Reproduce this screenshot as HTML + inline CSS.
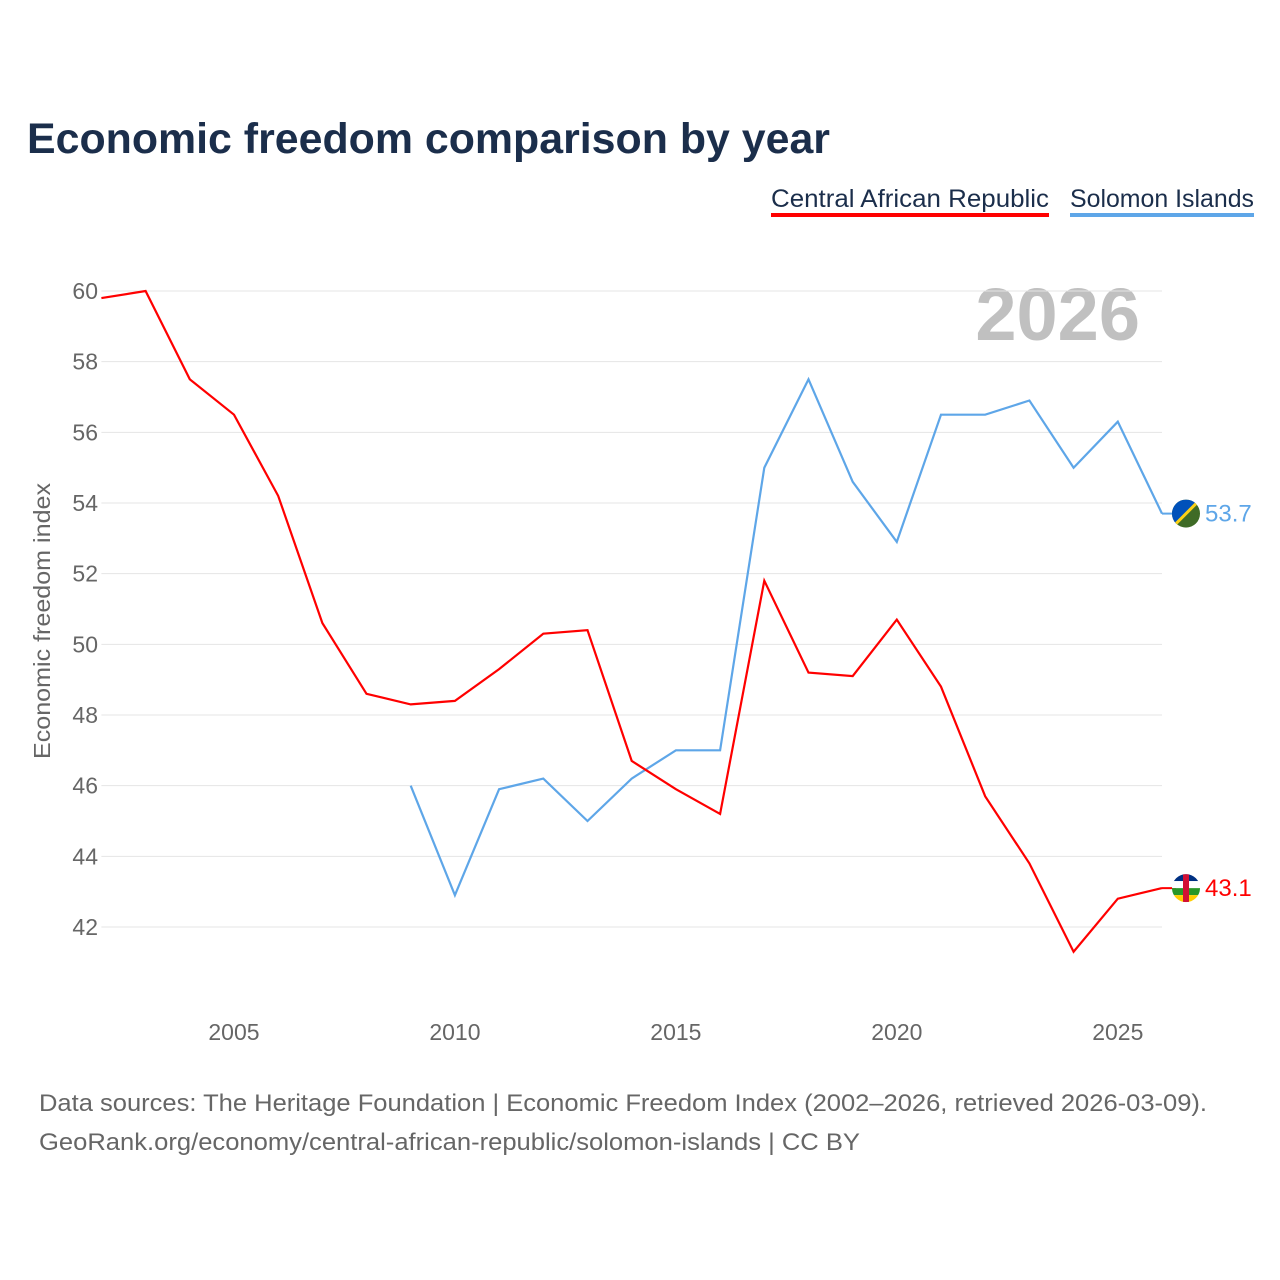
<!DOCTYPE html>
<html><head><meta charset="utf-8"><style>
body{margin:0;background:#fff;font-family:"Liberation Sans",sans-serif;}
#wrap{position:relative;width:1280px;height:1280px;overflow:hidden;}
</style></head><body>
<div id="wrap">
<svg id="chart" width="1280" height="1280"></svg>
</div>
<script>
const years = [2002,2003,2004,2005,2006,2007,2008,2009,2010,2011,2012,2013,2014,2015,2016,2017,2018,2019,2020,2021,2022,2023,2024,2025,2026];
const carValues = [59.8,60.0,57.5,56.5,54.2,50.6,48.6,48.3,48.4,49.3,50.3,50.4,46.7,45.9,45.2,51.8,49.2,49.1,50.7,48.8,45.7,43.8,41.3,42.8,43.1];
const solValues = [null,null,null,null,null,null,null,46.0,42.9,45.9,46.2,45.0,46.2,47.0,47.0,55.0,57.5,54.6,52.9,56.5,56.5,56.9,55.0,56.3,53.7];
const yTicks = [42,44,46,48,50,52,54,56,58,60];
const xTicks = [2005,2010,2015,2020,2025];

const NS="http://www.w3.org/2000/svg";
const svg=document.getElementById('chart');
const X0=101.4,X1=1162,Y0=927,Y1=291;
function xs(y){return X0+(y-2002)*(X1-X0)/(2026-2002);}
function ys(v){return Y0-(v-42)*(Y0-Y1)/(60-42);}
function el(tag,attrs,text){const e=document.createElementNS(NS,tag);for(const k in attrs)e.setAttribute(k,attrs[k]);if(text!==undefined)e.textContent=text;svg.appendChild(e);return e;}
const F='"Liberation Sans",sans-serif';

let t=el('text',{x:27,y:153,'font-size':43,'font-weight':'bold',fill:'#1b2e4b','font-family':F,textLength:803,lengthAdjust:'spacingAndGlyphs'},'Economic freedom comparison by year');



t=el('text',{x:771,y:207,'font-size':25,fill:'#1b2e4b','font-family':F,textLength:278,lengthAdjust:'spacingAndGlyphs'},'Central African Republic');


let r=el('rect',{x:771,y:213,width:278,height:4,fill:'#ff0000'});


t=el('text',{x:1070,y:207,'font-size':25,fill:'#1b2e4b','font-family':F,textLength:184,lengthAdjust:'spacingAndGlyphs'},'Solomon Islands');


r=el('rect',{x:1070,y:213,width:184,height:4,fill:'#5ea6e8'});



t=el('text',{x:1140,y:340,'font-size':74,'font-weight':'bold',fill:'#c0c0c0','text-anchor':'end','font-family':F},'2026');



yTicks.forEach(v=>{
  const l=el('line',{x1:X0,x2:X1,y1:ys(v),y2:ys(v),stroke:'#e4e4e4','stroke-width':1});
  
  
  const tx=el('text',{x:98,y:ys(v)+8,'font-size':23,fill:'#666','text-anchor':'end','font-family':F},String(v));
  
  
});
xTicks.forEach(v=>{
  const tx=el('text',{x:xs(v),y:1040,'font-size':23,fill:'#666','text-anchor':'middle','font-family':F},String(v));
  
  
});
t=el('text',{x:0,y:0,'font-size':23,fill:'#666','text-anchor':'middle','font-family':F,transform:'translate(50,621) rotate(-90)',textLength:276,lengthAdjust:'spacingAndGlyphs'},'Economic freedom index');



function pathFor(vals){let d='',pen=false;vals.forEach((v,i)=>{if(v===null){pen=false;return;}d+=(pen?'L':'M')+xs(years[i]).toFixed(1)+','+ys(v).toFixed(1);pen=true;});return d;}
let p=el('path',{d:pathFor(solValues),fill:'none',stroke:'#5ea6e8','stroke-width':2.2});


p=el('path',{d:pathFor(carValues),fill:'none',stroke:'#ff0000','stroke-width':2.2});



const last=years.length-1;
const ySol=ys(solValues[last]), yCar=ys(carValues[last]);
el('line',{x1:X1,x2:1176,y1:ySol,y2:ySol,stroke:'#5ea6e8','stroke-width':2});
el('line',{x1:X1,x2:1176,y1:yCar,y2:yCar,stroke:'#ff0000','stroke-width':2});
const defs=el('defs',{});
function clip(id,cy){const c=document.createElementNS(NS,'clipPath');c.setAttribute('id',id);const ci=document.createElementNS(NS,'circle');ci.setAttribute('cx',1186);ci.setAttribute('cy',cy);ci.setAttribute('r',14);c.appendChild(ci);defs.appendChild(c);}
clip('cs',ySol);clip('cc',yCar);
let g=el('g',{'clip-path':'url(#cs)'});


g.innerHTML=`<rect x="1172" y="${ySol-14}" width="28" height="28" fill="#3f6b26"/><polygon points="1172,${ySol-14} 1200,${ySol-14} 1172,${ySol+14}" fill="#0051ba"/><line x1="1172" y1="${ySol+14}" x2="1200" y2="${ySol-14}" stroke="#fcd116" stroke-width="3"/>`;
g=el('g',{'clip-path':'url(#cc)'});


g.innerHTML=`<rect x="1172" y="${yCar-14}" width="28" height="7" fill="#003082"/><rect x="1172" y="${yCar-7}" width="28" height="7" fill="#fff"/><rect x="1172" y="${yCar}" width="28" height="7" fill="#289728"/><rect x="1172" y="${yCar+7}" width="28" height="7" fill="#ffce00"/><rect x="1183" y="${yCar-14}" width="6" height="28" fill="#d21034"/>`;
t=el('text',{x:1205,y:ySol+8,'font-size':24,fill:'#5ea6e8','font-family':F},solValues[last].toFixed(1));


t=el('text',{x:1205,y:yCar+8,'font-size':24,fill:'#ff0000','font-family':F},carValues[last].toFixed(1));



t=el('text',{x:39,y:1111,'font-size':24,fill:'#666','font-family':F,textLength:1168,lengthAdjust:'spacingAndGlyphs'},'Data sources: The Heritage Foundation | Economic Freedom Index (2002–2026, retrieved 2026-03-09).');


t=el('text',{x:39,y:1150,'font-size':24,fill:'#666','font-family':F,textLength:821,lengthAdjust:'spacingAndGlyphs'},'GeoRank.org/economy/central-african-republic/solomon-islands | CC BY');


</script>
</body></html>
